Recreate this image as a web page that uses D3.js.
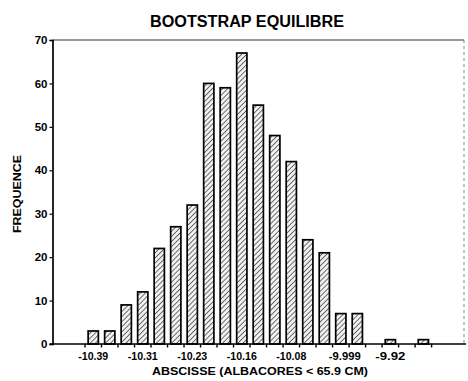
<!DOCTYPE html>
<html><head><meta charset="utf-8">
<script src="https://cdn.jsdelivr.net/npm/d3@7"></script>
<style>
body{margin:0;background:#fff;}
svg{display:block;font-family:"Liberation Sans",Arial,sans-serif;font-weight:bold;}
</style></head>
<body><svg id="c" width="468" height="381"></svg>
<script>
const bins = d3.range(1, 22);
const counts = [3,3,9,12,22,27,32,60,59,67,55,48,42,24,21,7,7,0,1,0,1];
const tickLabels = ["-10.39","-10.31","-10.23","-10.16","-10.08","-9.999","-9.92"];
const tickBins = [1,4,7,10,13,16,19];
const yTicks = [0,10,20,30,40,50,60,70];

const svg = d3.select("#c");
const mLeft = 52.5, mRight = 464, mTop = 40, mBottom = 344;

const x = d3.scaleBand().domain(bins).range([85, 431.6]).paddingInner(0.38).paddingOuter(0.19);
const y = d3.scaleLinear().domain([0,70]).range([mBottom, mTop]);

const defs = svg.append("defs");
const pat = defs.append("pattern").attr("id","hatch").attr("patternUnits","userSpaceOnUse")
  .attr("width",3.6).attr("height",3.6).attr("patternTransform","rotate(45)");
pat.append("rect").attr("width",3.6).attr("height",3.6).attr("fill","#f2f2f2");
pat.append("line").attr("x1",0).attr("y1",0).attr("x2",0).attr("y2",3.6).attr("stroke","#222").attr("stroke-width",1.3);

// frame: top and right
svg.append("line").attr("x1",mLeft).attr("x2",mRight).attr("y1",mTop).attr("y2",mTop)
  .attr("stroke","#333").attr("stroke-width",1);
svg.append("line").attr("x1",mRight).attr("x2",mRight).attr("y1",mTop).attr("y2",mBottom)
  .attr("stroke","#888").attr("stroke-width",1).attr("stroke-dasharray","3,3");

// bars
svg.append("g").selectAll("rect").data(bins.filter((b,i)=>counts[i]>0)).join("rect")
  .attr("x", d=>x(d))
  .attr("width", x.bandwidth())
  .attr("y", d=>y(counts[d-1]))
  .attr("height", d=>y(0)-y(counts[d-1]))
  .attr("fill","url(#hatch)")
  .attr("stroke","#000").attr("stroke-width",1.7);

// y axis
const ya = svg.append("g").attr("transform",`translate(${mLeft},0)`)
  .call(d3.axisLeft(y).tickValues(yTicks).tickSize(3).tickPadding(2).tickFormat(d3.format("d")));
ya.select(".domain").attr("stroke","#000").attr("stroke-width",1.7);
ya.selectAll(".tick line").attr("stroke","#000").attr("stroke-width",1.2);
ya.selectAll("text").attr("font-size",11.5).attr("font-weight","bold").attr("font-family","Liberation Sans, Arial, sans-serif").attr("fill","#000");

// x axis line
svg.append("line").attr("x1",mLeft-3).attr("x2",mRight+2).attr("y1",mBottom).attr("y2",mBottom)
  .attr("stroke","#000").attr("stroke-width",1.7);
// ticks at bin boundaries
const step = x.step();
const edges = d3.range(0, bins.length+1).map(i => x(1) - (step - x.bandwidth())/2 + i*step);
svg.append("g").selectAll("line").data(edges).join("line")
  .attr("x1",d=>d).attr("x2",d=>d).attr("y1",mBottom).attr("y2",mBottom+3.5)
  .attr("stroke","#000").attr("stroke-width",1.4);
// labels
svg.append("g").selectAll("text").data(tickBins).join("text")
  .attr("x",(d,i)=>x(d)+x.bandwidth()/2 + (i===5?4:0))
  .attr("y",360).attr("text-anchor","middle").attr("font-size",11)
  .attr("textLength",(d,i)=> i===5?32:30).attr("lengthAdjust","spacingAndGlyphs")
  .text((d,i)=>tickLabels[i]);

// titles
svg.append("text").attr("x",247).attr("y",27).attr("text-anchor","middle")
  .attr("font-size",16).attr("textLength",194).attr("lengthAdjust","spacingAndGlyphs")
  .text("BOOTSTRAP EQUILIBRE");
svg.append("text").attr("x",260).attr("y",375).attr("text-anchor","middle")
  .attr("font-size",11.5).attr("textLength",216).attr("lengthAdjust","spacingAndGlyphs")
  .text("ABSCISSE (ALBACORES < 65.9 CM)");
svg.append("text").attr("transform","translate(21,194) rotate(-90)").attr("text-anchor","middle")
  .attr("font-size",11).attr("textLength",78).attr("lengthAdjust","spacingAndGlyphs")
  .text("FREQUENCE");
</script></body></html>
